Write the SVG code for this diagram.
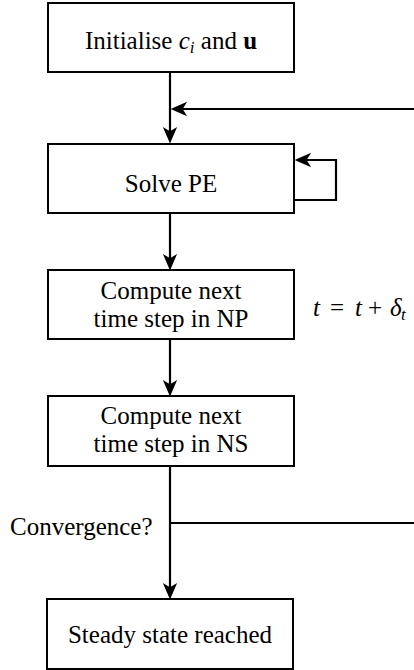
<svg xmlns="http://www.w3.org/2000/svg" width="414" height="670" viewBox="0 0 414 670">
<style>
.box{fill:#fff;stroke:#000;stroke-width:2}
.t{font-family:"Liberation Serif","Times New Roman",serif;font-size:25px;fill:#000;text-anchor:middle}
.lbl{font-family:"Liberation Serif","Times New Roman",serif;font-size:25px;fill:#000}
.c{fill:none;stroke:#000;stroke-width:2.2}
</style>
<defs>
<marker id="ah" markerUnits="userSpaceOnUse" markerWidth="22" markerHeight="20" viewBox="-18 -8 20 16" refX="-4" refY="0" orient="auto">
<path d="M0,0 L-15,-6.5 L-11,0 L-15,6.5 Z" fill="#000"/>
</marker>
</defs>
<rect width="414" height="670" fill="#fff"/>
<g id="connectors">
<path class="c" d="M170,72 V139" marker-end="url(#ah)"/>
<path class="c" d="M414,109 H175" marker-end="url(#ah)"/>
<path class="c" d="M294,200 H336 V160 H299" marker-end="url(#ah)"/>
<path class="c" d="M170,213 V266" marker-end="url(#ah)"/>
<path class="c" d="M170,339 V392" marker-end="url(#ah)"/>
<path class="c" d="M170,466 V595" marker-end="url(#ah)"/>
<path class="c" d="M170,523 H414"/>
</g>
<g id="init">
<rect class="box" x="48" y="3" width="246" height="69"/>
<text class="t" x="171" y="49">Initialise <tspan font-style="italic">c</tspan><tspan font-style="italic" font-size="17" dy="4">i</tspan><tspan dy="-4"> and </tspan><tspan font-weight="bold">u</tspan></text>
</g>
<g id="solvepe">
<rect class="box" x="48" y="144" width="246" height="69"/>
<text class="t" x="171" y="192">Solve PE</text>
</g>
<g id="np">
<rect class="box" x="48" y="270" width="246" height="69"/>
<text class="t" x="171" y="299">Compute next</text>
<text class="t" x="171" y="327">time step in NP</text>
</g>
<g id="ns">
<rect class="box" x="48" y="396" width="246" height="70"/>
<text class="t" x="171" y="424">Compute next</text>
<text class="t" x="171" y="452">time step in NS</text>
</g>
<g id="steady">
<rect class="box" x="47" y="599" width="246" height="70"/>
<text class="t" x="170" y="643">Steady state reached</text>
</g>
<g id="labels">
<text class="lbl" y="316"><tspan x="313" font-style="italic">t</tspan><tspan x="330">=</tspan><tspan x="355" font-style="italic">t</tspan><tspan x="368">+</tspan><tspan x="390" font-style="italic">δ</tspan><tspan x="401" font-style="italic" font-size="17" dy="4">t</tspan></text>
<text class="lbl" x="10" y="535">Convergence?</text>
</g>
</svg>
